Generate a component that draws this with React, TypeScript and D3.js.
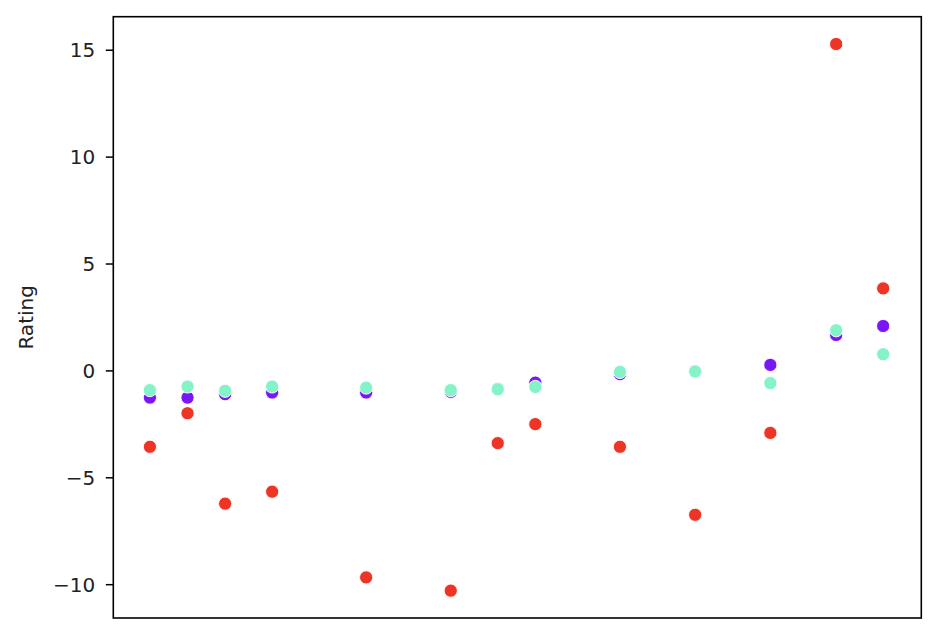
import React from "react";
import * as d3 from "d3";

const xValues = [0, 4, 8, 13, 23, 32, 37, 41, 50, 58, 66, 73, 78];
const purpleSeries = [-1.25, -1.25, -1.09, -1.01, -1.01, -0.98, -0.84, -0.55, -0.15, -0.02, 0.28, 1.68, 2.1];
const tealSeries = [-0.9, -0.73, -0.93, -0.73, -0.78, -0.9, -0.86, -0.75, -0.05, -0.03, -0.57, 1.9, 0.78];
const redSeries = [-3.55, -1.98, -6.21, -5.65, -9.66, -10.28, -3.38, -2.49, -3.55, -6.73, -2.9, 15.29, 3.86];
const yTicks = [-10, -5, 0, 5, 10, 15];
const yLabel = "Rating";

const seriesList = [
  { name: "a", values: purpleSeries, color: "#7a17f6" },
  { name: "b", values: tealSeries, color: "#85f3c8" },
  { name: "c", values: redSeries, color: "#ee3424" },
];

export default function App() {
  const W = 936;
  const H = 642;
  const left = 113.3;
  const right = 921.3;
  const top = 16.7;
  const bottom = 618;

  const xExt = d3.extent(xValues) as [number, number];
  const xPad = (xExt[1] - xExt[0]) * 0.052;
  const x = d3.scaleLinear().domain([xExt[0] - xPad, xExt[1] + xPad]).range([left - 1.5, right]);

  const allY = [...purpleSeries, ...tealSeries, ...redSeries];
  const yExt = d3.extent(allY) as [number, number];
  const yPad = (yExt[1] - yExt[0]) * 0.05;
  const y = d3.scaleLinear().domain([yExt[0] - yPad, yExt[1] + yPad]).range([bottom, top]);

  const fmt = d3.format("d");
  const font = "DejaVu Sans, sans-serif";

  return (
    <svg
      width={W}
      height={H}
      style={{ position: "absolute", left: 0, top: 0, background: "#fff" }}
    >
      <rect x={0} y={0} width={W} height={H} fill="#fff" />
      {seriesList.map((s) =>
        s.values.map((v, i) => (
          <circle
            key={s.name + i}
            cx={x(xValues[i])}
            cy={y(v)}
            r={6.6}
            fill={s.color}
            stroke="#fff"
            strokeWidth={0.9}
          />
        ))
      )}
      <rect
        x={left}
        y={top}
        width={right - left}
        height={bottom - top}
        fill="none"
        stroke="#000"
        strokeWidth={1.6}
      />
      {yTicks.map((t) => (
        <g key={t}>
          <line x1={left - 7.5} x2={left} y1={y(t)} y2={y(t)} stroke="#000" strokeWidth={1.5} />
          <text
            x={left - 18}
            y={y(t)}
            textAnchor="end"
            dominantBaseline="central"
            fontFamily={font}
            fontSize={20}
            fill="#222"
          >
            {fmt(t).replace("-", "\u2212")}
          </text>
        </g>
      ))}
      <text
        transform={`translate(33,${(top + bottom) / 2}) rotate(-90)`}
        textAnchor="middle"
        fontFamily={font}
        fontSize={20}
        fill="#222"
      >
        {yLabel}
      </text>
    </svg>
  );
}
